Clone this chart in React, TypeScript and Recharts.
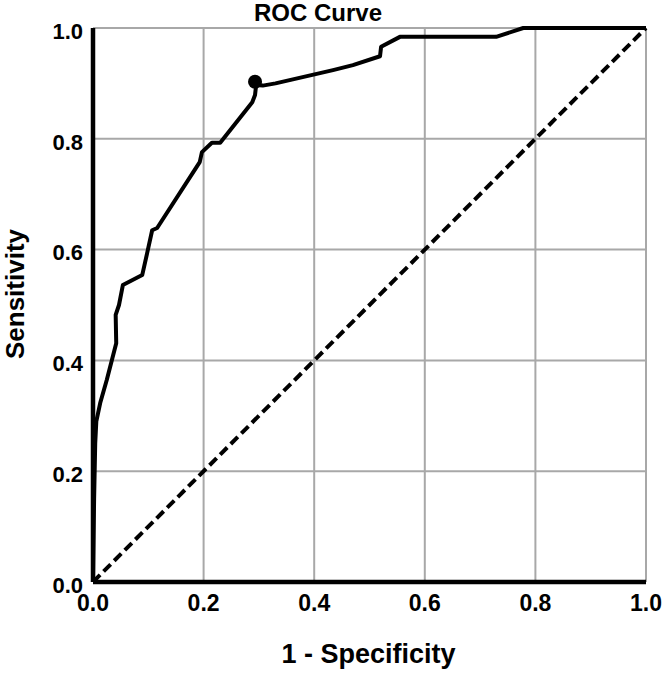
import {
  CartesianGrid,
  ComposedChart,
  Label,
  Line,
  Scatter,
  XAxis,
  YAxis,
} from "recharts";

const FONT = "'Liberation Sans', Arial, Helvetica, sans-serif";

// 1 - specificity (false positive rate) and sensitivity along the ROC curve
const FPR = [
  0, 0.002, 0.004, 0.006, 0.013, 0.025, 0.042, 0.041, 0.047, 0.054, 0.089, 0.098, 0.107, 0.116,
  0.193, 0.197, 0.215, 0.23, 0.288, 0.293, 0.295, 0.307, 0.33, 0.434, 0.47, 0.519, 0.521, 0.555,
  0.729, 0.778, 1.0,
];
const TPR = [
  0, 0.15, 0.25, 0.29, 0.323, 0.365, 0.431, 0.482, 0.5, 0.536, 0.554, 0.594, 0.635, 0.639, 0.758,
  0.776, 0.793, 0.793, 0.866, 0.879, 0.897, 0.896, 0.9, 0.924, 0.933, 0.949, 0.966, 0.984, 0.984,
  1.0, 1.0,
];

// reference line of a random classifier
const CHANCE_X = [0, 1];
const CHANCE_Y = [0, 1];

// optimal cut-off point marked on the curve
const CUTOFF_X = [0.293];
const CUTOFF_Y = [0.903];

const TICKS = [0, 0.2, 0.4, 0.6, 0.8, 1.0];

const rocData = FPR.map((x, i) => ({ x, y: TPR[i] }));
const chanceData = CHANCE_X.map((x, i) => ({ x, y: CHANCE_Y[i] }));
const cutoffData = CUTOFF_X.map((x, i) => ({ x, y: CUTOFF_Y[i] }));

const tickStyle = { fill: "#000", fontSize: 22, fontWeight: 700, fontFamily: FONT };

function YTitle({ viewBox }: any) {
  const cy = viewBox.y + viewBox.height / 2 - 11;
  return (
    <text
      x={24}
      y={cy}
      transform={`rotate(-90 24 ${cy})`}
      textAnchor="middle"
      fill="#000"
      fontSize={26}
      fontWeight={700}
      fontFamily={FONT}
    >
      Sensitivity
    </text>
  );
}

function XTitle({ viewBox }: any) {
  return (
    <text
      x={viewBox.x + viewBox.width / 2 - 1}
      y={663}
      textAnchor="middle"
      fill="#000"
      fontSize={27}
      fontWeight={700}
      fontFamily={FONT}
    >
      1 - Specificity
    </text>
  );
}

function CutoffDot(props: any) {
  return <circle cx={props.cx} cy={props.cy} r={7} fill="#000" />;
}

export default function App() {
  return (
    <div style={{ position: "absolute", left: 0, top: 0, width: 665, height: 677, background: "#fff" }}>
      <ComposedChart width={665} height={677} margin={{ top: 28, right: 19, left: 0, bottom: 0 }}>
        <text x={318} y={21} textAnchor="middle" fill="#000" fontSize={24} fontWeight={700} fontFamily={FONT}>
          ROC Curve
        </text>
        <CartesianGrid stroke="#a8a8a8" strokeWidth={2} />
        <XAxis
          type="number"
          dataKey="x"
          domain={[0, 1]}
          ticks={TICKS}
          tickFormatter={(v: number) => v.toFixed(1)}
          axisLine={{ stroke: "#000", strokeWidth: 4.5 }}
          tickLine={false}
          tickSize={0}
          tickMargin={13}
          tick={{ ...tickStyle, fontSize: 23 }}
          height={95}
          interval={0}
        >
          <Label content={<XTitle />} />
        </XAxis>
        <YAxis
          type="number"
          dataKey="y"
          domain={[0, 1]}
          ticks={TICKS}
          tickFormatter={(v: number) => v.toFixed(1)}
          axisLine={{ stroke: "#000", strokeWidth: 4.5 }}
          tickLine={false}
          tickSize={0}
          tickMargin={10}
          tick={{ ...tickStyle, dy: 3 }}
          width={93}
          interval={0}
        >
          <Label content={<YTitle />} />
        </YAxis>
        <Line
          data={chanceData}
          dataKey="y"
          type="linear"
          stroke="#000"
          strokeWidth={4}
          strokeDasharray="10 5"
          dot={false}
          isAnimationActive={false}
        />
        <Line
          data={rocData}
          dataKey="y"
          type="linear"
          stroke="#000"
          strokeWidth={4}
          strokeLinejoin="round"
          dot={false}
          isAnimationActive={false}
        />
        <Scatter data={cutoffData} dataKey="y" shape={<CutoffDot />} isAnimationActive={false} />
      </ComposedChart>
    </div>
  );
}
